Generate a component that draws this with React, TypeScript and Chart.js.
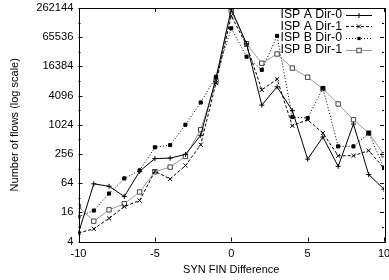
import React, { useEffect, useRef } from "react";
import { Chart, registerables } from "chart.js";

Chart.register(...registerables);

const xValues = [-10, -9, -8, -7, -6, -5, -4, -3, -2, -1, 0, 1, 2, 3, 4, 5, 6, 7, 8, 9, 10];
const ispADir0 = [6, 62, 55, 34, 112, 205, 210, 250, 620, 9400, 250000, 48000, 2600, 6200, 2000, 200, 573, 142, 1060, 96, 48];
const ispADir1 = [6, 7.3, 12, 21, 28, 112, 78, 147, 396, 7400, 180000, 45000, 5370, 8900, 975, 1300, 690, 235, 235, 300, 130];
const ispBDir0 = [13, 17.4, 39, 80, 117, 350, 390, 1024, 2950, 10000, 100000, 26000, 13900, 69700, 1480, 1400, 5800, 367, 367, 690, 132];
const ispBDir1 = [21, 10.5, 18, 24, 42, 110, 137, 228, 810, 8000, 230000, 48000, 19000, 29500, 15100, 9800, 5700, 2750, 1300, 690, 247];
const seriesLabels = ["ISP A Dir-0", "ISP A Dir-1", "ISP B Dir-0", "ISP B Dir-1"];
const yTicks = [4, 16, 64, 256, 1024, 4096, 16384, 65536, 262144];
const xTicks = [-10, -5, 0, 5, 10];
const xTitle = "SYN FIN Difference";
const yTitle = "Number of flows (log scale)";

const FONT = "'Liberation Sans', Arial, Helvetica, sans-serif";

type Style = { line: string; marker: string; dash: number[]; kind: string; fill: string };
const styles: Style[] = [
  { line: "#000", marker: "#000", dash: [], kind: "plus", fill: "#000" },
  { line: "#000", marker: "#000", dash: [3, 2], kind: "x", fill: "#000" },
  { line: "#000", marker: "#000", dash: [1, 2], kind: "fsq", fill: "#000" },
  { line: "#9a9a9a", marker: "#444", dash: [], kind: "osq", fill: "#fff" },
];

function drawMarker(ctx: CanvasRenderingContext2D, kind: string, x: number, y: number, color: string) {
  ctx.save();
  ctx.setLineDash([]);
  ctx.strokeStyle = color;
  ctx.fillStyle = color;
  ctx.lineWidth = 1;
  ctx.beginPath();
  if (kind === "plus") {
    ctx.moveTo(x - 2.5, y); ctx.lineTo(x + 2.5, y);
    ctx.moveTo(x, y - 2.5); ctx.lineTo(x, y + 2.5);
    ctx.stroke();
  } else if (kind === "x") {
    ctx.moveTo(x - 2, y - 2); ctx.lineTo(x + 2, y + 2);
    ctx.moveTo(x - 2, y + 2); ctx.lineTo(x + 2, y - 2);
    ctx.stroke();
  } else if (kind === "fsq") {
    ctx.fillRect(x - 1.6, y - 1.6, 3.2, 3.2);
  } else {
    ctx.fillStyle = "#fff";
    ctx.fillRect(x - 2.2, y - 2.2, 4.4, 4.4);
    ctx.strokeRect(x - 2.2, y - 2.2, 4.4, 4.4);
  }
  ctx.restore();
}

const framePlugin = {
  id: "frame",
  afterDatasetsDraw(chart: any) {
    const ctx: CanvasRenderingContext2D = chart.ctx;
    const { left, right, top, bottom } = chart.chartArea;
    const ys = chart.scales.y;
    const xs = chart.scales.x;
    ctx.save();
    ctx.strokeStyle = "#000";
    ctx.lineWidth = 1;
    ctx.setLineDash([]);
    for (let p = 2; p <= 18; p++) {
      const v = Math.pow(2, p);
      const py = Math.round(ys.getPixelForValue(v)) + 0.5;
      const len = p % 2 === 0 ? 4 : 2;
      ctx.beginPath();
      ctx.moveTo(left, py); ctx.lineTo(left + len, py);
      ctx.moveTo(right, py); ctx.lineTo(right - len, py);
      ctx.stroke();
    }
    for (const v of xTicks) {
      const px = Math.round(xs.getPixelForValue(v)) + 0.5;
      ctx.beginPath();
      ctx.moveTo(px, bottom); ctx.lineTo(px, bottom - 4);
      ctx.moveTo(px, top); ctx.lineTo(px, top + 4);
      ctx.stroke();
    }
    ctx.strokeRect(Math.round(left) + 0.5, Math.round(top) + 0.5, Math.round(right - left), Math.round(bottom - top));
    ctx.font = "12.3px " + FONT;
    ctx.fillStyle = "#000";
    ctx.textAlign = "right";
    ctx.textBaseline = "middle";
    for (let i = 0; i < seriesLabels.length; i++) {
      const y = 14.5 + i * 11.8;
      const s = styles[i];
      ctx.fillText(seriesLabels[i], 342, y);
      ctx.beginPath();
      ctx.strokeStyle = s.line;
      ctx.setLineDash(s.dash);
      ctx.moveTo(346, Math.round(y) + 0.5);
      ctx.lineTo(372, Math.round(y) + 0.5);
      ctx.stroke();
      drawMarker(ctx, s.kind, 359, Math.round(y) + 0.5, s.marker);
    }
    ctx.restore();
  },
};

export default function App() {
  const ref = useRef<HTMLCanvasElement | null>(null);
  useEffect(() => {
    document.body.style.margin = "0";
    const canvas = ref.current;
    if (!canvas) return;
    const series = [ispADir0, ispADir1, ispBDir0, ispBDir1];
    const datasets = series.map((arr, i) => {
      const s = styles[i];
      const pointStyle = s.kind === "plus" ? "cross" : s.kind === "x" ? "crossRot" : "rect";
      return {
        label: seriesLabels[i],
        data: xValues.map((x, j) => ({ x, y: arr[j] })),
        borderColor: s.line,
        borderWidth: 1,
        borderDash: s.dash,
        pointStyle,
        pointRadius: s.kind === "plus" ? 2.5 : s.kind === "x" ? 2.9 : s.kind === "fsq" ? 2.2 : 3.1,
        pointBorderColor: s.marker,
        pointBackgroundColor: s.fill,
        pointBorderWidth: 1,
        tension: 0,
        fill: false,
      };
    });
    const chart = new Chart(canvas, {
      type: "line",
      data: { datasets: datasets as any },
      options: {
        animation: false,
        responsive: false,
        maintainAspectRatio: false,
        layout: { padding: { top: 8, right: 3.5, left: 0, bottom: 0 } },
        plugins: { legend: { display: false }, tooltip: { enabled: false } },
        scales: {
          x: {
            type: "linear",
            min: -10,
            max: 10,
            grid: { display: false, drawTicks: false },
            border: { display: false },
            afterBuildTicks: (s: any) => { s.ticks = xTicks.map((v) => ({ value: v })); },
            afterFit: (s: any) => { s.height = 38.5; s.paddingLeft = 0; s.paddingRight = 0; },
            ticks: { color: "#000", padding: 6, maxRotation: 0, autoSkip: false, font: { family: FONT, size: 11 } },
            title: { display: true, text: xTitle, color: "#000", padding: { top: 0, bottom: 3 }, font: { family: FONT, size: 11 } },
          },
          y: {
            type: "logarithmic",
            min: 4,
            max: 262144,
            grid: { display: false, drawTicks: false },
            border: { display: false },
            afterBuildTicks: (s: any) => { s.ticks = yTicks.map((v) => ({ value: v })); },
            afterFit: (s: any) => { s.width = 78.5; s.paddingTop = 0; s.paddingBottom = 0; },
            ticks: { color: "#000", padding: 5, autoSkip: false, callback: (v: any) => String(v), font: { family: FONT, size: 11.2 } },
            title: { display: true, text: yTitle, color: "#000", padding: { top: 8, bottom: 0 }, font: { family: FONT, size: 11 } },
          },
        },
      },
      plugins: [framePlugin],
    });
    return () => chart.destroy();
  }, []);
  return (
    <div style={{ position: "absolute", left: 0, top: 0, width: 389, height: 280 }}>
      <canvas ref={ref} width={389} height={280} style={{ width: 389, height: 280 }} />
    </div>
  );
}
